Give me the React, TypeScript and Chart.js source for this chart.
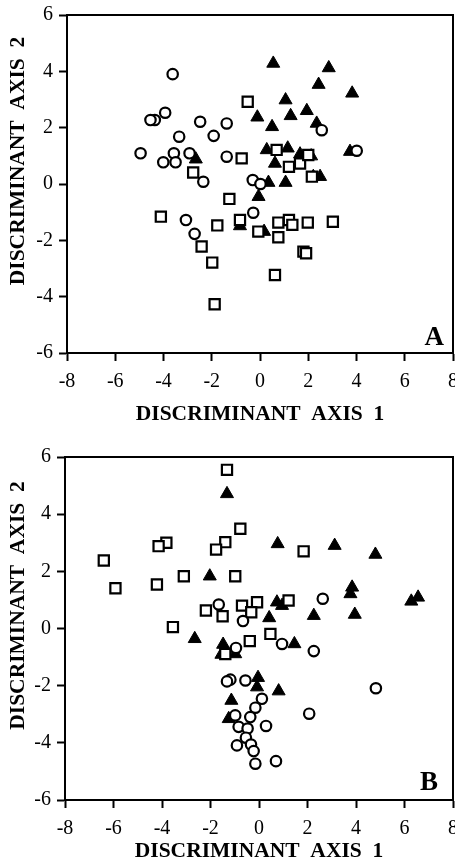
import { useEffect, useRef } from "react";
import { Chart, registerables } from "chart.js";

Chart.register(...registerables);

const FONT = "'Liberation Serif', 'Times New Roman', Times, serif";

type P = [number, number];

// ---------- Panel A ----------
const circlesA: P[] = [
  [-3.62, 3.9], [-3.93, 2.53], [-4.36, 2.27], [-4.54, 2.27], [-2.48, 2.21],
  [-1.38, 2.15], [-3.35, 1.68], [-1.92, 1.71], [-4.95, 1.09], [-3.57, 1.09],
  [-2.92, 1.09], [-4.01, 0.77], [-3.5, 0.77], [-1.38, 0.97], [-2.35, 0.08],
  [-0.3, 0.14], [0.02, 0.0], [-0.28, -1.02], [-3.07, -1.28], [-2.71, -1.77],
  [2.56, 1.91], [4.01, 1.18],
];
const squaresA: P[] = [
  [-0.51, 2.92], [-0.76, 0.91], [-2.77, 0.41], [-1.27, -0.53], [-4.11, -1.16],
  [-1.77, -1.47], [-0.83, -1.28], [-2.42, -2.22], [-1.98, -2.79], [-1.88, -4.27],
  [-0.07, -1.69], [0.76, -1.37], [1.2, -1.28], [1.34, -1.45], [1.98, -1.37],
  [3.02, -1.34], [0.76, -1.89], [1.8, -2.4], [1.91, -2.46], [0.62, -3.23],
  [0.69, 1.21], [1.2, 0.61], [1.66, 0.73], [2.0, 1.03], [2.15, 0.26],
];
const trianglesA: P[] = [
  [0.55, 4.28], [2.85, 4.12], [2.43, 3.53], [3.82, 3.22], [1.06, 2.98],
  [-0.11, 2.37], [1.27, 2.42], [1.94, 2.6], [0.5, 2.03], [2.35, 2.15],
  [0.28, 1.21], [1.15, 1.27], [1.66, 1.06], [2.12, 0.99], [3.73, 1.15],
  [0.62, 0.73], [0.35, 0.05], [1.06, 0.05], [2.21, 0.26], [2.49, 0.26],
  [-0.06, -0.45], [-2.66, 0.88], [-0.83, -1.49], [0.17, -1.69],
];

// ---------- Panel B ----------
const circlesB: P[] = [
  [-1.66, 0.84], [-0.66, 0.26], [2.63, 1.04], [-0.95, -0.68], [-1.18, -1.79],
  [-1.32, -1.85], [-0.56, -1.82], [-0.15, -2.77], [-0.36, -3.1], [-0.98, -3.04],
  [-0.84, -3.44], [-0.47, -3.5], [-0.54, -3.82], [-0.91, -4.09], [-0.33, -4.06],
  [-0.22, -4.29], [-0.15, -4.73], [0.95, -0.54], [2.26, -0.79], [4.82, -2.09],
  [0.12, -2.46], [0.29, -3.41], [2.07, -2.98], [0.7, -4.64],
];
const squaresB: P[] = [
  [-1.32, 5.55], [-0.77, 3.49], [-1.39, 3.02], [-1.77, 2.76], [-3.82, 3.0],
  [-4.14, 2.88], [-6.4, 2.38], [-5.92, 1.41], [-4.21, 1.54], [-3.1, 1.83],
  [-0.98, 1.83], [-2.19, 0.63], [-1.5, 0.43], [-0.7, 0.8], [-0.08, 0.92],
  [-0.32, 0.57], [-3.55, 0.05], [1.84, 2.7], [1.22, 0.98], [-0.38, -0.44],
  [-1.39, -0.89], [0.47, -0.19],
];
const trianglesB: P[] = [
  [-1.32, 4.71], [-2.03, 1.83], [0.77, 2.96], [3.12, 2.9], [4.8, 2.59],
  [3.84, 1.44], [3.77, 1.21], [6.56, 1.09], [6.28, 0.95], [0.74, 0.92],
  [0.95, 0.8], [2.26, 0.45], [3.95, 0.49], [0.42, 0.37], [-2.65, -0.36],
  [-1.48, -0.56], [-0.98, -0.89], [-1.55, -0.91], [-0.04, -1.72], [-0.08, -2.05],
  [-1.14, -2.52], [-1.25, -3.16], [1.46, -0.54], [0.81, -2.19],
];

const xTickValues = [-8, -6, -4, -2, 0, 2, 4, 6, 8];
const yTickValues = [-6, -4, -2, 0, 2, 4, 6];
const xTitle = "DISCRIMINANT  AXIS  1";
const yTitle = "DISCRIMINANT  AXIS  2";

const toPts = (a: P[]) => a.map(([x, y]) => ({ x, y }));

const framePlugin = {
  id: "frame",
  beforeDatasetsDraw(chart: any) {
    const { ctx, chartArea } = chart;
    const { left, right, top, bottom } = chartArea;
    ctx.save();
    ctx.strokeStyle = "#000";
    ctx.lineWidth = 2;
    ctx.strokeRect(left, top, right - left, bottom - top);
    ctx.restore();
  },
  afterDraw(chart: any, _args: any, o: any) {
    const { ctx, chartArea } = chart;
    const { left, right, top, bottom } = chartArea;
    ctx.save();
    ctx.fillStyle = "#000";
    ctx.textBaseline = "alphabetic";
    ctx.font = `bold 27px ${FONT}`;
    ctx.textAlign = "right";
    ctx.fillText(o.letter, right - o.letterDx, bottom - o.letterDy);
    ctx.font = `bold 21.5px ${FONT}`;
    ctx.textAlign = "center";
    ctx.fillText(xTitle, (left + right) / 2, o.xTitleY);
    ctx.translate(o.yTitleX, (top + bottom) / 2 + o.yTitleDy);
    ctx.rotate(-Math.PI / 2);
    ctx.fillText(yTitle, 0, 0);
    ctx.restore();
  },
};

function makeConfig(
  circles: P[],
  squares: P[],
  triangles: P[],
  layout: { top: number; yWidth: number; xHeight: number },
  frame: any
): any {
  return {
    type: "scatter",
    data: {
      datasets: [
        {
          label: "circles",
          data: toPts(circles),
          pointStyle: "circle",
          pointRadius: 5.2,
          borderWidth: 2.2,
          borderColor: "#000",
          backgroundColor: "#fff",
        },
        {
          label: "squares",
          data: toPts(squares),
          pointStyle: "rect",
          pointRadius: 7.2,
          borderWidth: 2.2,
          borderColor: "#000",
          backgroundColor: "#fff",
        },
        {
          label: "triangles",
          data: toPts(triangles),
          pointStyle: "triangle",
          pointRadius: 7.5,
          borderWidth: 1,
          borderColor: "#000",
          backgroundColor: "#000",
        },
      ],
    },
    options: {
      animation: false,
      responsive: false,
      maintainAspectRatio: false,
      layout: {
        autoPadding: false,
        padding: { top: layout.top, right: 2, left: 0, bottom: 0 },
      },
      plugins: {
        legend: { display: false },
        tooltip: { enabled: false },
        frame,
      },
      scales: {
        x: {
          type: "linear",
          min: -8,
          max: 8,
          afterBuildTicks: (s: any) => {
            s.ticks = xTickValues.map((v) => ({ value: v }));
          },
          afterFit: (s: any) => {
            s.height = layout.xHeight;
            s.paddingLeft = 0;
            s.paddingRight = 0;
          },
          ticks: {
            color: "#000",
            font: { family: FONT, size: 20 },
            padding: 9,
            maxRotation: 0,
            autoSkip: false,
            callback: (v: any) => String(v),
          },
          grid: {
            display: true,
            drawOnChartArea: false,
            drawTicks: true,
            tickLength: 8,
            tickWidth: 2,
            tickColor: "#000",
          },
          border: { display: true, color: "#000", width: 2 },
        },
        y: {
          type: "linear",
          min: -6,
          max: 6,
          afterBuildTicks: (s: any) => {
            s.ticks = yTickValues.map((v) => ({ value: v }));
          },
          afterFit: (s: any) => {
            s.width = layout.yWidth;
            s.paddingTop = 0;
            s.paddingBottom = 0;
          },
          ticks: {
            color: "#000",
            font: { family: FONT, size: 20 },
            padding: 6,
            autoSkip: false,
            callback: (v: any) => String(v),
          },
          grid: {
            display: true,
            drawOnChartArea: false,
            drawTicks: true,
            tickLength: 8,
            tickWidth: 2,
            tickColor: "#000",
          },
          border: { display: true, color: "#000", width: 2 },
        },
      },
    },
    plugins: [framePlugin],
  };
}

export default function App() {
  const refA = useRef<HTMLCanvasElement>(null);
  const refB = useRef<HTMLCanvasElement>(null);

  useEffect(() => {
    const a = new Chart(
      refA.current as HTMLCanvasElement,
      makeConfig(
        circlesA,
        squaresA,
        trianglesA,
        { top: 15, yWidth: 67, xHeight: 77 },
        { letter: "A", letterDx: 9, letterDy: 8, xTitleY: 420, yTitleX: 24, yTitleDy: -23 }
      )
    );
    const b = new Chart(
      refB.current as HTMLCanvasElement,
      makeConfig(
        circlesB,
        squaresB,
        trianglesB,
        { top: 27, yWidth: 65, xHeight: 61 },
        { letter: "B", letterDx: 15, letterDy: 10, xTitleY: 427, yTitleX: 24, yTitleDy: -23 }
      )
    );
    return () => {
      a.destroy();
      b.destroy();
    };
  }, []);

  return (
    <div style={{ position: "absolute", left: 0, top: 0, width: 455, height: 861, background: "#fff" }}>
      <canvas ref={refA} width={455} height={430} style={{ position: "absolute", left: 0, top: 0, width: 455, height: 430 }} />
      <canvas ref={refB} width={455} height={431} style={{ position: "absolute", left: 0, top: 430, width: 455, height: 431 }} />
    </div>
  );
}
